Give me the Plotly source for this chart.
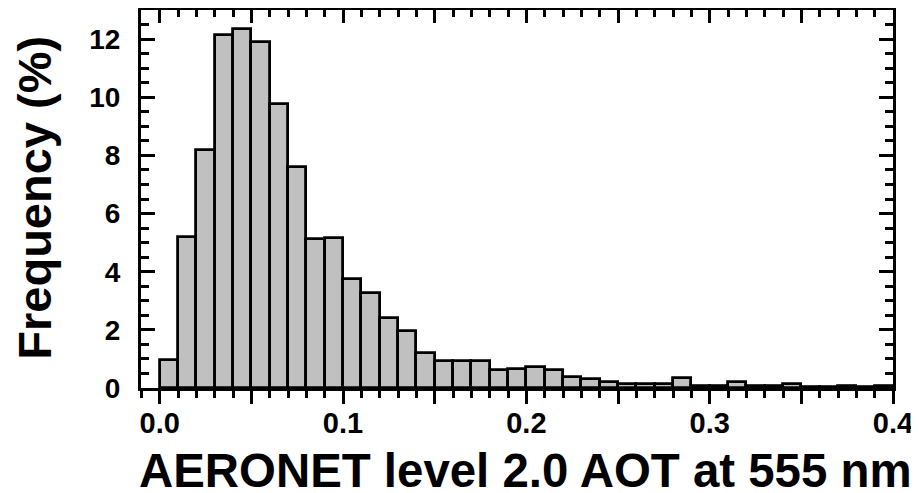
import plotly.graph_objects as go

# Histogram bins (left edges) of AOT, width 0.01
bin_left = [round(i * 0.01, 2) for i in range(40)]
bin_width = 0.01
frequency = [0.97, 5.2, 8.2, 12.15, 12.35, 11.9, 9.77, 7.6, 5.13, 5.17,
             3.75, 3.27, 2.4, 1.95, 1.22, 0.93, 0.93, 0.93, 0.63, 0.67,
             0.72, 0.63, 0.38, 0.32, 0.22, 0.15, 0.15, 0.15, 0.33, 0.07,
             0.07, 0.19, 0.07, 0.07, 0.14, 0.03, 0.03, 0.06, 0.03, 0.06]

x_tickvals = [0.0, 0.05, 0.1, 0.15, 0.2, 0.25, 0.3, 0.35, 0.4]
x_ticktext = ["0.0", "", "0.1", "", "0.2", "", "0.3", "", "0.4"]
y_tickvals = [0, 2, 4, 6, 8, 10, 12]
y_ticktext = ["0", "2", "4", "6", "8", "10", "12"]

x_title = "AERONET level 2.0 AOT at 555 nm"
y_title = "Frequency (%)"

FONT = "Liberation Sans, Arial, sans-serif"
centers = [b + bin_width / 2 for b in bin_left]

fig = go.Figure()
fig.add_trace(go.Bar(
    x=centers, y=frequency, width=bin_width,
    marker=dict(color="#c0c0c0", line=dict(color="black", width=2.8)),
    showlegend=False, hoverinfo="skip",
))
# invisible trace to anchor the top tick axis
fig.add_trace(go.Scatter(x=[0.2], y=[5], xaxis="x2", yaxis="y", mode="markers",
                         marker=dict(opacity=0), showlegend=False, hoverinfo="skip"))

xrange = [-0.0102, 0.4]
# page body has an 8px default margin, so the figure is offset by 8px
fig.update_layout(
    width=911, height=485,
    margin=dict(l=133, r=26, t=2, b=105),
    paper_bgcolor="white", plot_bgcolor="white",
    bargap=0,
    font=dict(family=FONT, color="black"),
    xaxis=dict(
        range=xrange, showgrid=False, zeroline=False, automargin=False,
        showline=True, linecolor="black", linewidth=3, mirror=True,
        tickmode="array", tickvals=x_tickvals, ticktext=x_ticktext,
        ticks="outside", ticklen=13, tickwidth=3, tickcolor="black",
        minor=dict(tick0=0, dtick=0.01, ticks="outside", ticklen=7,
                   tickwidth=2.5, tickcolor="black", showgrid=False),
        tickfont=dict(family=FONT, size=29, weight="bold"),
        ticklabelstandoff=-6,
    ),
    xaxis2=dict(
        range=xrange, overlaying="x", side="top", showgrid=False, zeroline=False,
        showline=False, showticklabels=False, automargin=False,
        tickmode="array", tickvals=x_tickvals,
        ticks="inside", ticklen=13, tickwidth=3, tickcolor="black",
        minor=dict(tick0=0, dtick=0.01, ticks="inside", ticklen=7,
                   tickwidth=2.5, tickcolor="black", showgrid=False),
    ),
    yaxis=dict(
        range=[0, 13], showgrid=False, zeroline=False, automargin=False,
        showline=True, linecolor="black", linewidth=3, mirror="ticks",
        tickmode="array", tickvals=y_tickvals, ticktext=y_ticktext,
        ticks="inside", ticklen=14, tickwidth=3, tickcolor="black",
        minor=dict(tick0=0, dtick=0.5, ticks="inside", ticklen=8,
                   tickwidth=2.5, tickcolor="black", showgrid=False),
        tickfont=dict(family=FONT, size=28, weight="bold"),
        ticklabelstandoff=12,
    ),
    annotations=[
        dict(text=x_title, xref="paper", yref="paper", x=0.511, y=-0.219,
             xanchor="center", yanchor="middle", showarrow=False,
             font=dict(family=FONT, size=47.4, weight="bold", color="black")),
        dict(text=y_title, xref="paper", yref="paper", x=-0.142, y=0.504,
             xanchor="center", yanchor="middle", showarrow=False, textangle=-90,
             font=dict(family=FONT, size=47, weight="bold", color="black")),
    ],
)

fig.write_html("out.html")
